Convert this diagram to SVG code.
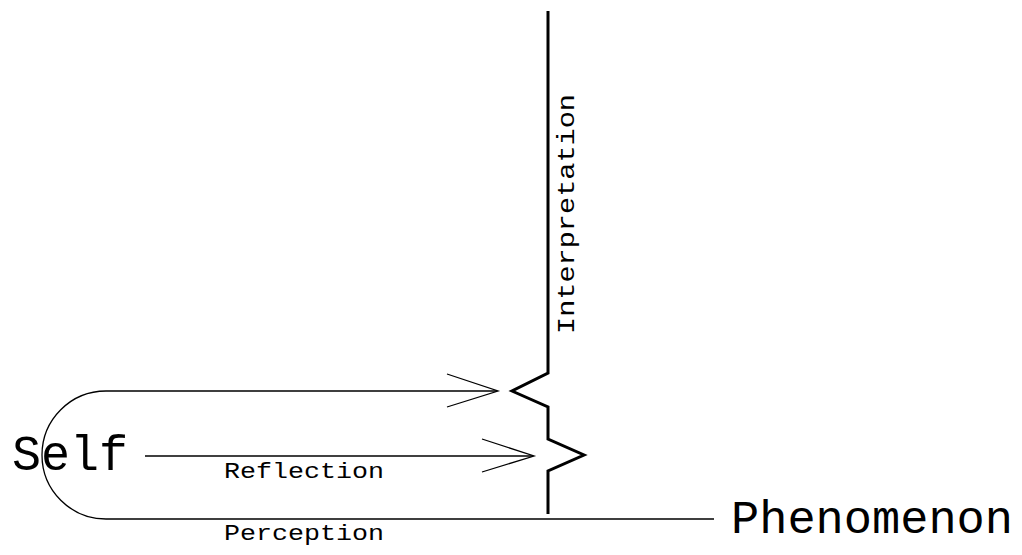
<svg xmlns="http://www.w3.org/2000/svg" width="1022" height="555" viewBox="0 0 1022 555">
<style>
.t{font-family:"Liberation Mono","DejaVu Sans Mono",monospace;fill:#000}
.c{fill:none;stroke:#000;stroke-width:1.3}
</style>
<rect width="1022" height="555" fill="#fff"/>
<g id="connectors">
<path class="c" d="M497,391 H106 A64,64 0 0 0 106,519 H714"/>
<path class="c" d="M447,374 L498,391 L447,407"/>
<path class="c" d="M145,456 H533"/>
<path class="c" d="M482,439 L534,456 L482,472"/>
</g>
<g id="interpretation">
<path fill="none" stroke="#000" stroke-width="3" d="M548,11 V373 L512,391 L548,407 V439 L584,455 L548,471 V514"/>
<text class="t" font-size="23" transform="translate(574,334) rotate(-90)" textLength="240" lengthAdjust="spacingAndGlyphs">Interpretation</text>
</g>
<g id="self">
<text class="t" x="12" y="470" font-size="50" textLength="116" lengthAdjust="spacingAndGlyphs">Self</text>
</g>
<g id="phenomenon">
<text class="t" x="731" y="533" font-size="46" textLength="282" lengthAdjust="spacingAndGlyphs">Phenomenon</text>
</g>
<g id="labels">
<text class="t" x="224" y="478" font-size="22" textLength="160" lengthAdjust="spacingAndGlyphs">Reflection</text>
<text class="t" x="224" y="540" font-size="22" textLength="160" lengthAdjust="spacingAndGlyphs">Perception</text>
</g>
</svg>
